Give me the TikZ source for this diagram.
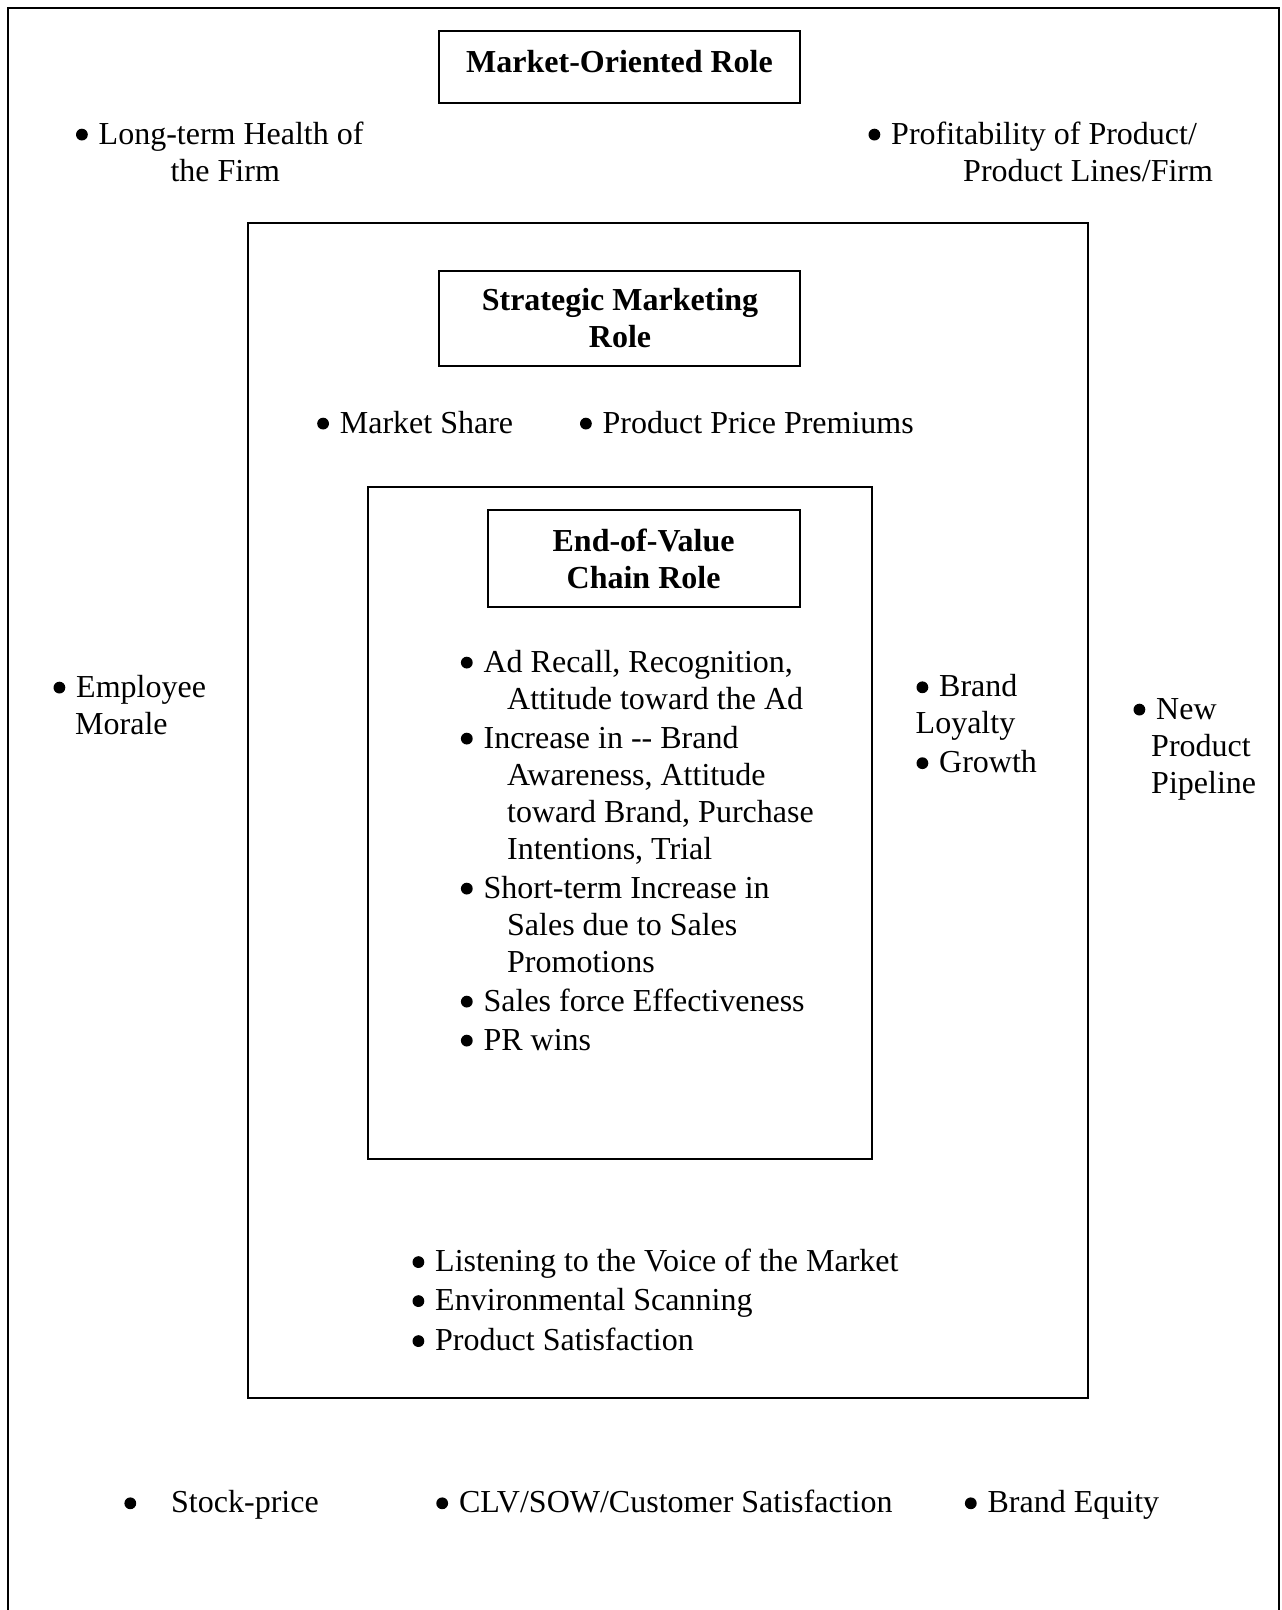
\documentclass[tikz,border=0pt]{standalone}
\usepackage{fontspec}
\setmainfont{Liberation Serif}
% keep the font's own interword space inside paragraph nodes
\newcommand\naturalspaces{\spaceskip=0pt\xspaceskip=0pt\relax}
% round bullet hung to the left of the item text
\newcommand\itembullet[1][10.9pt]{\naturalspaces\llap{\tikz[baseline=0pt]\fill (0pt,9.4pt) circle[radius=5.9pt];\hspace{#1}}}
\begin{document}
\begin{tikzpicture}[x=1pt,y=-1pt,
  frame/.style={draw=black, line width=2pt},
  area/.style={draw=black, line width=2pt, inner sep=0pt, outer sep=0pt},
  rolebox/.style={draw=black, line width=2pt, inner sep=0pt, outer sep=0pt},
  roletext/.style={font=\fontsize{32}{37}\selectfont\bfseries, inner sep=0pt,
    anchor=base, text width=#1, execute at begin node=\centering\naturalspaces},
  item/.style={font=\fontsize{32}{37}\selectfont, inner sep=0pt, anchor=base west},
  multiitem/.style={item, text width=420pt, execute at begin node=\raggedright\naturalspaces}
]
\useasboundingbox (0,0) rectangle (1282,1610);

% outer frame (open at the bottom)
\draw[frame] (8,1610) -- (8,8) -- (1279,8) -- (1279,1610);

% nested areas
\node[area, minimum width=840.5pt, minimum height=1175.3pt] (strategic) at (667.75,810.35) {};
\node[area, minimum width=504.9pt, minimum height=672.3pt] (endvalue) at (619.95,822.65) {};

% role title boxes
\node[rolebox, minimum width=361pt, minimum height=72pt] (mobox) at (619.5,67) {};
\node[roletext=361pt] (motitle) at (619.5,72) {\naturalspaces Market-Oriented Role};

\node[rolebox, minimum width=361pt, minimum height=95.4pt] (smbox) at (619.5,318.7) {};
\node[roletext=361pt] (smtitle) at (620,310.7) {\naturalspaces Strategic Marketing\\Role};

\node[rolebox, minimum width=312.1pt, minimum height=96.6pt] (evbox) at (643.55,558.3) {};
\node[roletext=312pt] (evtitle) at (643.6,551) {\naturalspaces End-of-Value\\Chain Role};

% market-oriented measures
\node[multiitem] (health) at (98.5,144) {\itembullet Long-term Health of\\\hspace*{71.9pt}the Firm};
\node[multiitem] (profit) at (891,144) {\itembullet Profitability of Product/\\\hspace*{72pt}Product Lines/Firm};
\node[multiitem] (morale) at (76,697) {\itembullet Employee\\\hspace*{-1pt}Morale};
\node[multiitem] (pipeline) at (1156,719) {\itembullet New\\\hspace*{-5pt}Product\\\hspace*{-5pt}Pipeline};
\node[item] (stock) at (171,1512.7) {\itembullet[35pt]Stock-price};
\node[item] (clv) at (458.8,1512.7) {\itembullet CLV/SOW/Customer Satisfaction};
\node[item] (equity) at (987.4,1512.7) {\itembullet Brand Equity};

% strategic marketing measures
\node[item] (share) at (339.7,433) {\itembullet Market Share};
\node[item] (premium) at (602.5,433) {\itembullet Product Price Premiums};
\node[multiitem] (loyalty) at (939,696.7) {\itembullet Brand\\\hspace*{-23.5pt}Loyalty};
\node[item] (growth) at (939,772.6) {\itembullet Growth};
\node[item] (voice) at (435,1271.5) {\itembullet Listening to the Voice of the Market};
\node[item] (scan) at (435,1310.5) {\itembullet Environmental Scanning};
\node[item] (psat) at (435,1350.5) {\itembullet Product Satisfaction};

% end-of-value-chain measures
\node[multiitem] (adrecall) at (483.4,672) {\itembullet Ad Recall, Recognition,\\\hspace*{23.6pt}Attitude toward the Ad};
\node[multiitem] (increase) at (483.4,748) {\itembullet Increase in -{}- Brand\\\hspace*{23.6pt}Awareness, Attitude\\\hspace*{23.6pt}toward Brand, Purchase\\\hspace*{23.6pt}Intentions, Trial};
\node[multiitem] (shortterm) at (483.4,898) {\itembullet Short-term Increase in\\\hspace*{23.6pt}Sales due to Sales\\\hspace*{23.6pt}Promotions};
\node[item] (salesforce) at (483.4,1011) {\itembullet Sales force Effectiveness};
\node[item] (prwins) at (483.4,1050) {\itembullet PR wins};
\end{tikzpicture}
\end{document}
